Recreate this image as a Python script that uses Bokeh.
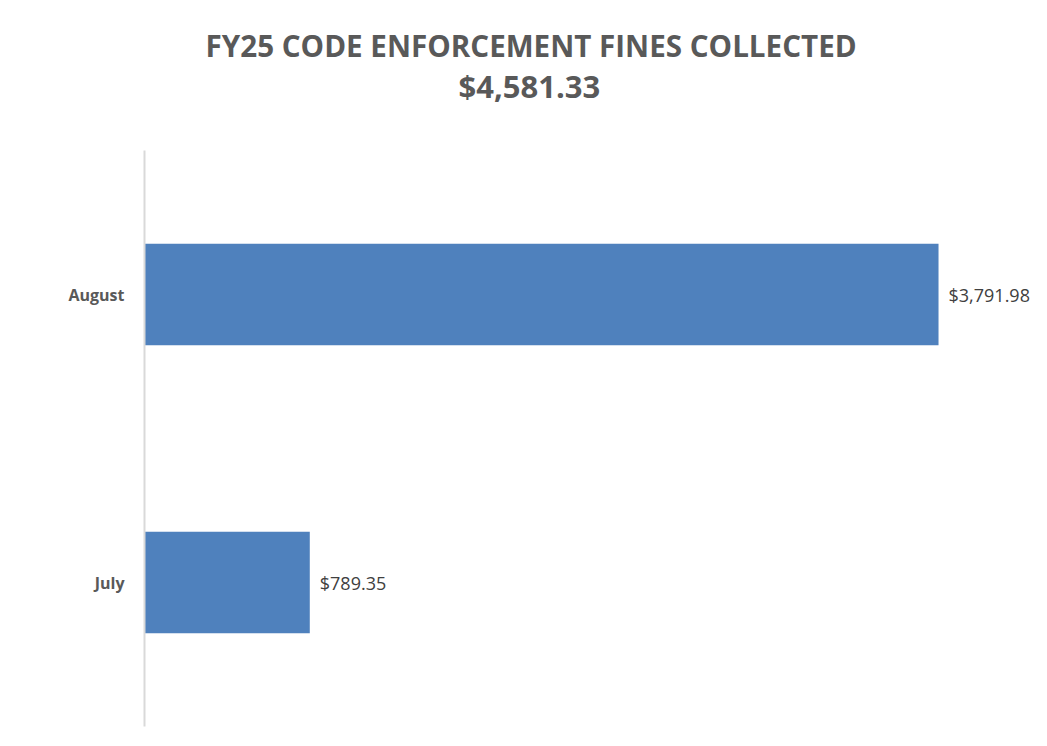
from bokeh.plotting import figure
from bokeh.models import ColumnDataSource, Title, Range1d, FactorRange, LabelSet
from bokeh.core.properties import value
from bokeh.embed import file_html
from bokeh.resources import INLINE

months = ["July", "August"]
fines = [789.35, 3791.98]
fine_labels = ["$789.35", "$3,791.98"]
title_line1 = "FY25 CODE ENFORCEMENT FINES COLLECTED"
title_line2 = "$4,581.33"

W, H = 1031, 730
p = figure(width=W, height=H, output_backend="svg", toolbar_location=None,
           y_range=FactorRange(factors=months, range_padding=0),
           x_range=Range1d(0, 4236))
p.min_border_left = 144
p.min_border_top = 150
p.min_border_bottom = 4
p.min_border_right = 0
p.outline_line_color = None
p.background_fill_color = "white"
p.border_fill_color = "white"
p.xgrid.visible = False
p.ygrid.visible = False
p.xaxis.visible = False

src = ColumnDataSource(dict(month=months, fine=fines, label=fine_labels))
p.hbar(y="month", right="fine", left=0, height=0.353, source=src,
       fill_color="#4f81bd", line_color=None)

p.add_layout(LabelSet(x="fine", y="month", text="label", source=src,
                      x_offset=10, text_baseline="middle", text_align="left",
                      text_font=value("Open Sans"), text_font_size="18px",
                      text_color="#404040"))

ya = p.yaxis[0]
ya.axis_line_color = "#d9d9d9"
ya.axis_line_width = 2
ya.major_tick_line_color = None
ya.minor_tick_line_color = None
ya.major_label_standoff = 14
ya.major_label_text_font = "Open Sans"
ya.major_label_text_font_style = "bold"
ya.major_label_text_font_size = "16px"
ya.major_label_text_color = "#595959"

for txt, so, off, fs in [(title_line2, 88, 314, "31px"), (title_line1, -95, 61, "29.6px")]:
    p.add_layout(Title(text=txt, align="left", offset=off, standoff=so,
                       text_font="Open Sans", text_font_style="bold",
                       text_font_size=fs, text_color="#595959"), "above")

open("out.html", "w").write(file_html(p, INLINE))
